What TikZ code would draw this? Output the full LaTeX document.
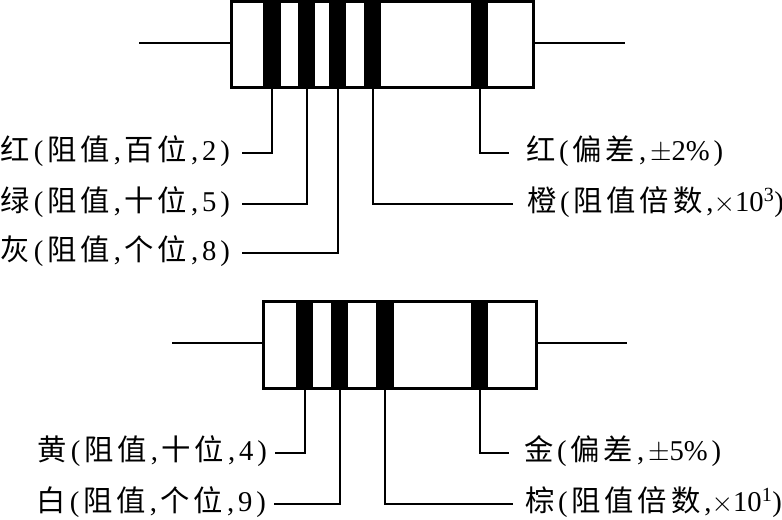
\documentclass[tikz,border=0pt]{standalone}
\usepackage{fontspec}
\setmainfont{Liberation Serif}
\newfontfamily\cjk{Noto Sans CJK SC}
\newcommand{\gp}{\hspace{2.9pt}}
\newcommand{\cc}[1]{{\cjk\fontsize{22pt}{22pt}\selectfont #1}}
\newcommand{\lbr}{\gp(\gp}
\tikzset{
  x=0.75pt,y=-0.75pt,
  body/.style={draw,line width=2.25pt,minimum width=#1*0.75pt,minimum height=64.5pt,inner sep=0pt,outer sep=0pt,anchor=north west},
  band/.style={fill=black,inner sep=0pt,outer sep=0pt,minimum width=12.9pt,minimum height=64.5pt,anchor=south},
  lead/.style={line width=1.5pt},
  leader/.style={line width=1.5pt},
  lab/.style={inner ysep=0pt,outer sep=0pt,text height=14pt,text depth=3.2pt,font=\fontsize{21.5pt}{21.5pt}\selectfont},
  labl/.style={lab,anchor=east,inner xsep=9pt},
  labr/.style={lab,anchor=west,inner xsep=#1*0.75pt},
}
\begin{document}
\begin{tikzpicture}
\useasboundingbox (0,0) rectangle (782,520);
% top resistor
\node[body=302.5] (A) at (231,2) {};
\coordinate (Al) at (139,43.5); \coordinate (Ar) at (625,43.5);
\draw[lead] (Al) -- (A.west |- Al);
\draw[lead] (A.east |- Ar) -- (Ar);
\node[band] (a1) at (272,88) {};
\node[band] (a2) at (306.5,88) {};
\node[band] (a3) at (337.5,88) {};
\node[band] (a4) at (372.5,88) {};
\node[band] (a5) at (479.5,88) {};
\node[labl] (la1) at (242,153) {\cc{红}\lbr\cc{阻}\gp\cc{值}\gp,\gp\cc{百}\gp\cc{位}\gp,\gp2\gp)};
\node[labl] (la2) at (242,204) {\cc{绿}\lbr\cc{阻}\gp\cc{值}\gp,\gp\cc{十}\gp\cc{位}\gp,\gp5\gp)};
\node[labl] (la3) at (242,253) {\cc{灰}\lbr\cc{阻}\gp\cc{值}\gp,\gp\cc{个}\gp\cc{位}\gp,\gp8\gp)};
\node[labr=17] (la5) at (509,153) {\cc{红}\lbr\cc{偏}\gp\cc{差}\gp,\gp$\pm$2\%\gp)};
\node[labr=14] (la4) at (513,204) {\cc{橙}\lbr\cc{阻}\gp\cc{值}\gp\cc{倍}\gp\cc{数}\gp,$\times$10\textsuperscript{3})};
\draw[leader] (a1.south) |- (la1.east);
\draw[leader] (a2.south) |- (la2.east);
\draw[leader] (a3.south) |- (la3.east);
\draw[leader] (a4.south) |- (la4.west);
\draw[leader] (a5.south) |- (la5.west);
% bottom resistor
\node[body=273] (B) at (263,302) {};
\coordinate (Bl) at (172,343.5); \coordinate (Br) at (627,343.5);
\draw[lead] (Bl) -- (B.west |- Bl);
\draw[lead] (B.east |- Br) -- (Br);
\node[band] (b1) at (304.5,388) {};
\node[band] (b2) at (339.5,388) {};
\node[band] (b3) at (385,388) {};
\node[band] (b4) at (479.5,388) {};
\node[lab,anchor=east,inner xsep=6pt] (lb1) at (275,453) {\cc{黄}\lbr\cc{阻}\gp\cc{值}\gp,\gp\cc{十}\gp\cc{位}\gp,\gp4\gp)};
\node[lab,anchor=east,inner xsep=6pt] (lb2) at (274,504) {\cc{白}\lbr\cc{阻}\gp\cc{值}\gp,\gp\cc{个}\gp\cc{位}\gp,\gp9\gp)};
\node[labr=15] (lb4) at (509,453) {\cc{金}\lbr\cc{偏}\gp\cc{差}\gp,\gp$\pm$5\%\gp)};
\node[labr=12] (lb3) at (513,504) {\cc{棕}\lbr\cc{阻}\gp\cc{值}\gp\cc{倍}\gp\cc{数}\gp,$\times$10\textsuperscript{1})};
\draw[leader] (b1.south) |- (lb1.east);
\draw[leader] (b2.south) |- (lb2.east);
\draw[leader] (b3.south) |- (lb3.west);
\draw[leader] (b4.south) |- (lb4.west);
\end{tikzpicture}
\end{document}
